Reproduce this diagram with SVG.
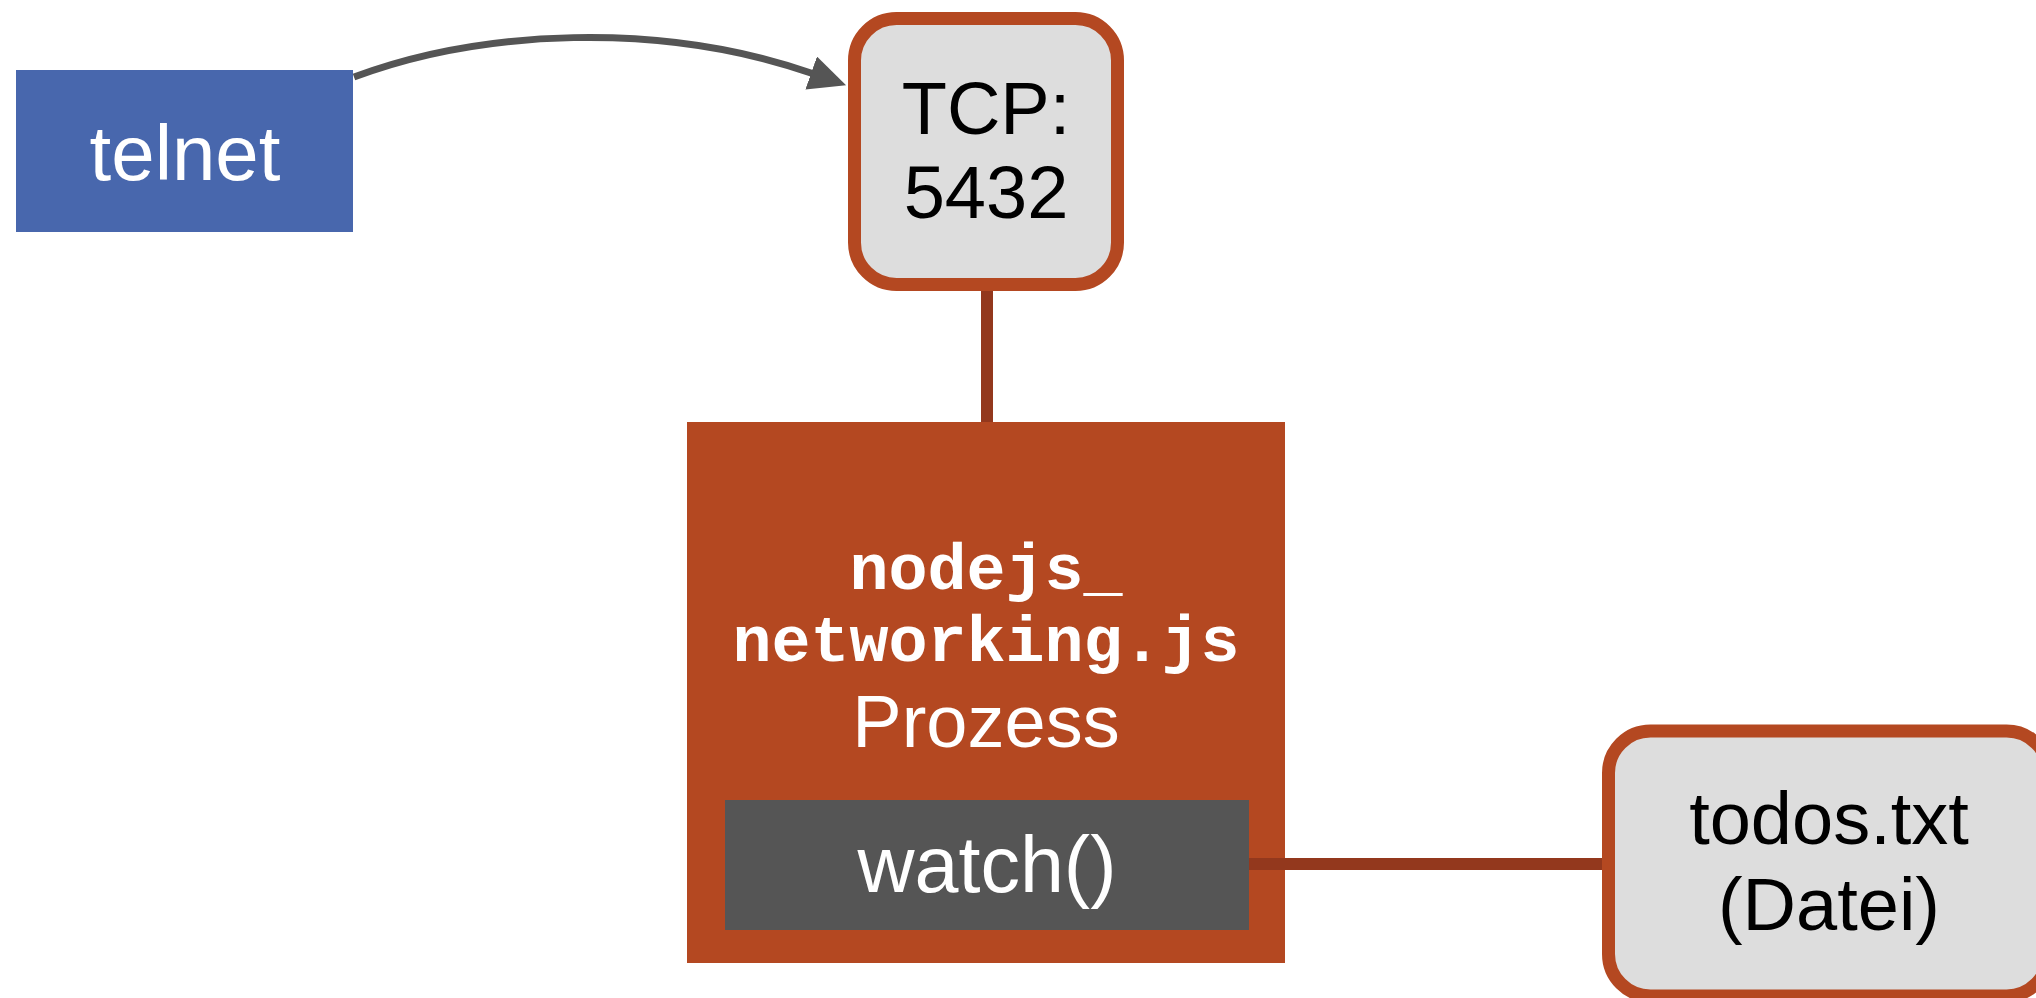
<svg xmlns="http://www.w3.org/2000/svg" width="2036" height="998" viewBox="0 0 2036 998">
<style>
.sans{font-family:"Liberation Sans",Arial,sans-serif;}
.mono{font-family:"Liberation Mono","Courier New",monospace;font-weight:bold;}
.port{fill:#dddddd;stroke:#b44821;stroke-width:13;}
.link{stroke:#93381d;stroke-width:12;fill:none;}
</style>
<defs>
<marker id="arr" markerUnits="userSpaceOnUse" markerWidth="42" markerHeight="38" refX="3" refY="17.5" orient="auto" viewBox="0 0 42 38">
<path d="M0,0 L37,17.5 L0,35 z" fill="#555555"/>
</marker>
</defs>
<g id="telnet">
<rect x="16" y="70" width="337" height="162" fill="#4867ad"/>
<text class="sans" x="185" y="180" font-size="78" fill="#ffffff" text-anchor="middle">telnet</text>
</g>
<g id="tcp">
<rect class="port" x="854.5" y="18.5" width="263" height="266" rx="42"/>
<text class="sans" x="986" y="134" font-size="74" fill="#000000" text-anchor="middle">TCP:</text>
<text class="sans" x="986" y="218" font-size="74" fill="#000000" text-anchor="middle">5432</text>
</g>
<g id="process">
<rect x="687" y="422" width="598" height="541" fill="#b44821"/>
<text class="mono" x="986" y="589" font-size="65" fill="#ffffff" text-anchor="middle">nodejs_</text>
<text class="mono" x="986" y="661" font-size="65" fill="#ffffff" text-anchor="middle">networking.js</text>
<text class="sans" x="986" y="747" font-size="74" fill="#ffffff" text-anchor="middle">Prozess</text>
</g>
<g id="watch">
<rect x="725" y="800" width="524" height="130" fill="#555555"/>
<text class="sans" x="987" y="892" font-size="79" fill="#ffffff" text-anchor="middle">watch()</text>
</g>
<g id="todos">
<rect class="port" x="1608.5" y="731" width="440" height="265" rx="42"/>
<text class="sans" x="1829" y="844" font-size="74" fill="#000000" text-anchor="middle">todos.txt</text>
<text class="sans" x="1829" y="930" font-size="74" fill="#000000" text-anchor="middle">(Datei)</text>
</g>
<g id="connectors">
<path d="M354,77 C480,30 660,20 814,74" fill="none" stroke="#555555" stroke-width="7" marker-end="url(#arr)"/>
<line class="link" x1="987" y1="291" x2="987" y2="422"/>
<line class="link" x1="1249" y1="864" x2="1602" y2="864"/>
</g>
</svg>
